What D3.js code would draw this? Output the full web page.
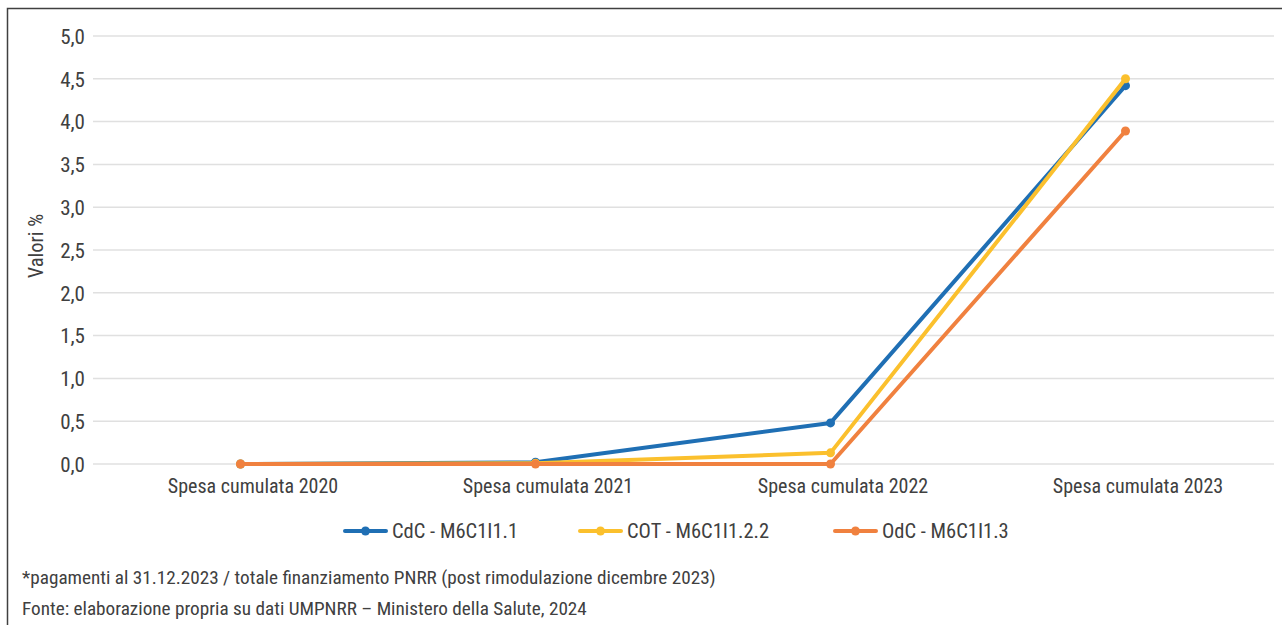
<!DOCTYPE html>
<html><head><meta charset="utf-8">
<script src="https://cdn.jsdelivr.net/npm/d3@7"></script>
<style>
html,body{margin:0;padding:0;background:#fff;}
svg text{font-family:"Liberation Sans Narrow","Roboto Condensed","Liberation Sans",sans-serif;fill:#404040;}
</style></head>
<body>
<svg id="c" width="1282" height="625"></svg>
<script>
const categories = ["Spesa cumulata 2020","Spesa cumulata 2021","Spesa cumulata 2022","Spesa cumulata 2023"];
const seriesNames = ["CdC - M6C1I1.1","COT - M6C1I1.2.2","OdC - M6C1I1.3"];
const seriesColors = ["#1f6fb4","#fbc02d","#f0813f"];
const cdcValues = [0.00, 0.02, 0.48, 4.42];
const cotValues = [0.00, 0.01, 0.13, 4.50];
const odcValues = [0.00, 0.00, 0.00, 3.89];
const yTicks = [0,0.5,1,1.5,2,2.5,3,3.5,4,4.5,5];
const footnotes = ["*pagamenti al 31.12.2023 / totale finanziamento PNRR (post rimodulazione dicembre 2023)",
"Fonte: elaborazione propria su dati UMPNRR – Ministero della Salute, 2024"];
const yTitle = "Valori %";

const svg = d3.select("#c");
svg.append("path").attr("d","M7.5,625 L7.5,8.5 L1282,8.5").attr("fill","none").attr("stroke","#404040").attr("stroke-width",1.5);

const x = d3.scalePoint().domain(categories).range([93,1273]).padding(0.5);
const y = d3.scaleLinear().domain([0,5]).range([464,36]);
const fmt = v => d3.format(".1f")(v).replace(".",",");

svg.append("g").selectAll("line").data(yTicks).join("line")
  .attr("x1",93).attr("x2",1274).attr("y1",d=>y(d)).attr("y2",d=>y(d))
  .attr("stroke","#e0e0e0").attr("stroke-width",1.5);

const yAxis = svg.append("g").attr("transform","translate(93,0)")
  .call(d3.axisLeft(y).tickValues(yTicks).tickFormat(fmt).tickSize(0).tickPadding(8));
yAxis.select(".domain").remove();
yAxis.selectAll("text").attr("font-size",21).attr("font-family",null).attr("fill","#404040").attr("dy","0.35em");

const xAxis = svg.append("g").attr("transform","translate(0,464)")
  .call(d3.axisBottom(x).tickSize(0).tickPadding(15));
xAxis.select(".domain").remove();
xAxis.selectAll("text").attr("font-size",20).attr("font-family",null).attr("fill","#404040").attr("dy","0.71em").attr("dx",12);

svg.append("text").attr("transform","translate(43,246) rotate(-90)").attr("text-anchor","middle")
  .attr("font-size",20.5).text(yTitle);

const series = [cdcValues, cotValues, odcValues];
const line = d3.line().x((d,i)=>x(categories[i])).y(d=>y(d));
const order = [0,1,2];
order.forEach(k=>{
  svg.append("path").datum(series[k]).attr("d",line).attr("fill","none")
    .attr("stroke",seriesColors[k]).attr("stroke-width",4).attr("stroke-linejoin","round");
  svg.append("g").selectAll("circle").data(series[k]).join("circle")
    .attr("cx",(d,i)=>x(categories[i])).attr("cy",d=>y(d)).attr("r",4.5).attr("fill",seriesColors[k]);
});

const legX = [345,580,835];
seriesNames.forEach((n,k)=>{
  const g = svg.append("g").attr("transform",`translate(${legX[k]},531)`);
  g.append("line").attr("x1",0).attr("x2",41).attr("stroke",seriesColors[k]).attr("stroke-width",4).attr("stroke-linecap","round");
  g.append("circle").attr("cx",20.5).attr("r",4.5).attr("fill",seriesColors[k]);
  g.append("text").attr("x",47).attr("dy","0.35em").attr("font-size",20.5).text(n);
});

svg.selectAll(".f").data(footnotes).join("text").attr("class","f")
  .attr("x",22).attr("y",(d,i)=>577+i*31).attr("dy","0.35em").attr("font-size",19.2).text(d=>d);
</script>
</body></html>
